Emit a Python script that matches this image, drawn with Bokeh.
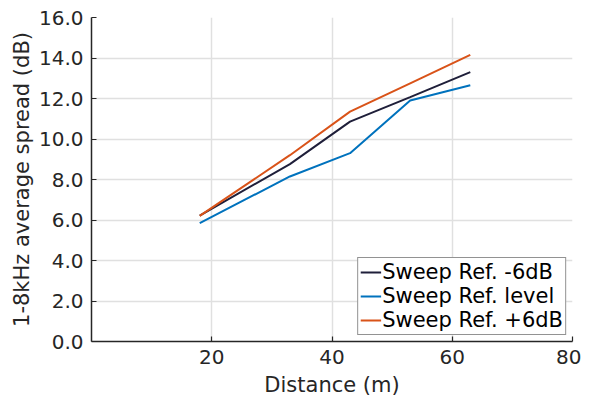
from bokeh.plotting import figure
from bokeh.models import FixedTicker, Legend, LegendItem, Range1d, NumeralTickFormatter
from bokeh.embed import file_html
from bokeh.resources import INLINE

distance = [18, 33, 43, 53, 63]
ref_minus6 = [6.22, 8.76, 10.86, 12.07, 13.3]
ref_level = [5.85, 8.15, 9.3, 11.9, 12.65]
ref_plus6 = [6.2, 9.2, 11.35, 12.75, 14.15]
x_ticks = [20, 40, 60, 80]
y_ticks = [0, 2, 4, 6, 8, 10, 12, 14, 16]
labels = ["Sweep Ref. -6dB", "Sweep Ref. level", "Sweep Ref. +6dB"]
colors = ["#1f1f3a", "#0072BD", "#D95319"]

FONT = "DejaVu Sans"
TXT = "#262626"

p = figure(width=581, height=400, output_backend="svg", toolbar_location=None,
           x_range=Range1d(0, 80), y_range=Range1d(0, 16),
           min_border_left=91, min_border_right=9, min_border_top=17, min_border_bottom=59)
p.outline_line_color = None

rs = []
for ys, c in zip([ref_minus6, ref_level, ref_plus6], colors):
    rs.append(p.line(distance, ys, line_color=c, line_width=2))

p.xaxis.ticker = FixedTicker(ticks=x_ticks)
p.yaxis.ticker = FixedTicker(ticks=y_ticks)
p.yaxis.formatter = NumeralTickFormatter(format="0.0")
for ax in [p.xaxis[0], p.yaxis[0]]:
    ax.major_tick_in = 5
    ax.major_tick_out = 0
    ax.minor_tick_in = 0
    ax.minor_tick_out = 0
    ax.axis_line_color = TXT
    ax.axis_line_width = 1.5
    ax.major_tick_line_color = TXT
    ax.major_tick_line_width = 1.2
    ax.major_label_text_font = FONT
    ax.major_label_text_font_size = "20px"
    ax.major_label_text_color = TXT
    ax.axis_label_text_font = FONT
    ax.axis_label_text_font_size = "21px"
    ax.axis_label_text_font_style = "normal"
    ax.axis_label_text_color = TXT
p.xaxis.axis_label = "Distance (m)"
p.yaxis.axis_label = "1-8kHz average spread (dB)"
p.xaxis.major_label_standoff = 8
p.yaxis.major_label_standoff = 8
p.xaxis.axis_label_standoff = 6
p.yaxis.axis_label_standoff = 2

p.grid.grid_line_color = "#e0e0e0"
p.grid.grid_line_width = 1.5

legend = Legend(items=[LegendItem(label=l, renderers=[r]) for l, r in zip(labels, rs)],
                location="bottom_right")
legend.border_line_color = TXT
legend.border_line_width = 1.5
legend.background_fill_color = "white"
legend.background_fill_alpha = 1.0
legend.label_text_font = FONT
legend.label_text_font_size = "21px"
legend.label_text_color = "#000000"
legend.glyph_width = 21
legend.glyph_height = 22
legend.label_standoff = 1
legend.label_height = 22
legend.spacing = 0
legend.padding = 2
legend.margin = 6
p.add_layout(legend)

open("out.html", "w").write(file_html(p, INLINE))
